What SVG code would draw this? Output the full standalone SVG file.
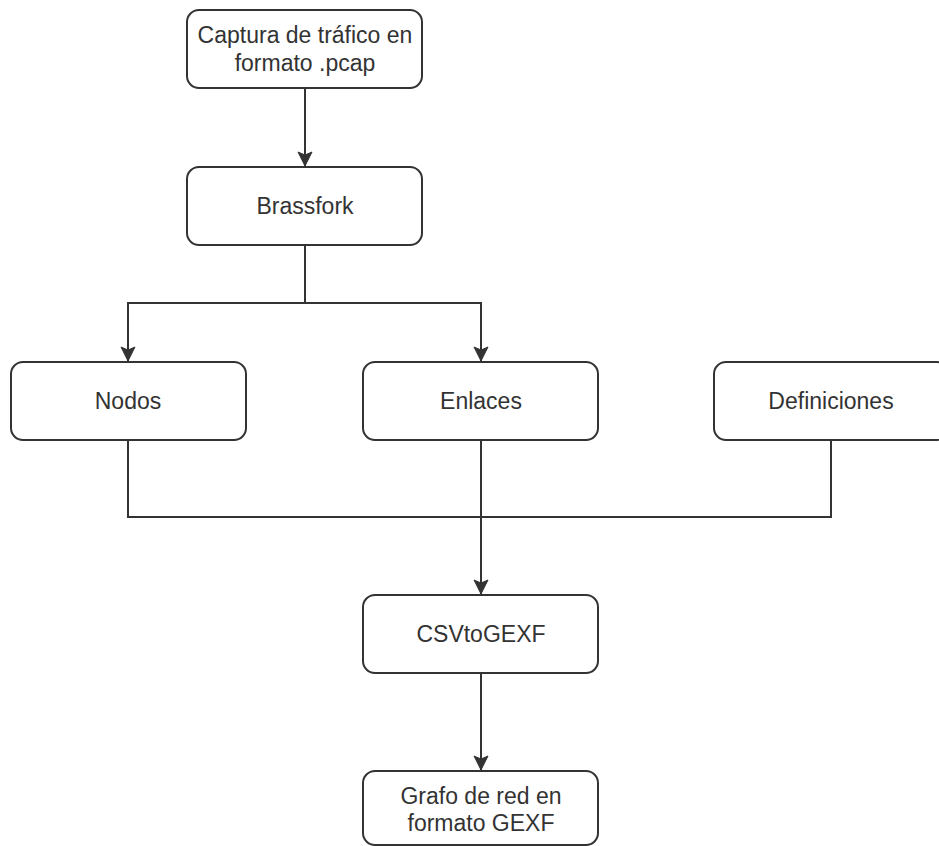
<svg xmlns="http://www.w3.org/2000/svg" width="939" height="846" viewBox="0 0 939 846">
  <style>
    .box { fill: #ffffff; stroke: #333333; stroke-width: 2; }
    .lbl { font-family: "Liberation Sans", Arial, sans-serif; font-size: 23px; fill: #333333; text-anchor: middle; }
    .wire { fill: none; stroke: #333333; stroke-width: 2; }
  </style>
  <defs>
    <marker id="arrow" markerUnits="userSpaceOnUse" markerWidth="16" markerHeight="16" viewBox="0 0 16 16" refX="15" refY="8" orient="auto">
      <path d="M1,1 L15,8 L1,15 L4,8 z" fill="#333333" stroke="#333333" stroke-width="1"/>
    </marker>
  </defs>
  <rect width="939" height="846" fill="#ffffff"/>

  <!-- connectors -->
  <g id="connectors">
    <line class="wire" x1="305" y1="88" x2="305" y2="166" marker-end="url(#arrow)"/>
    <polyline class="wire" points="305,245 305,303 128,303 128,361" marker-end="url(#arrow)"/>
    <polyline class="wire" points="305,303 481,303 481,361" marker-end="url(#arrow)"/>
    <line class="wire" x1="481" y1="440" x2="481" y2="594" marker-end="url(#arrow)"/>
    <polyline class="wire" points="128,440 128,517 831,517 831,440"/>
    <line class="wire" x1="481" y1="673" x2="481" y2="770" marker-end="url(#arrow)"/>
  </g>

  <g id="captura">
    <rect class="box" x="187" y="10" width="235" height="78" rx="12"/>
    <text class="lbl" x="305" y="43">Captura de tráfico en</text>
    <text class="lbl" x="305" y="71">formato .pcap</text>
  </g>

  <g id="brassfork">
    <rect class="box" x="187" y="167" width="235" height="78" rx="12"/>
    <text class="lbl" x="305" y="214">Brassfork</text>
  </g>

  <g id="nodos">
    <rect class="box" x="11" y="362" width="235" height="78" rx="12"/>
    <text class="lbl" x="128" y="409">Nodos</text>
  </g>

  <g id="enlaces">
    <rect class="box" x="363" y="362" width="235" height="78" rx="12"/>
    <text class="lbl" x="481" y="409">Enlaces</text>
  </g>

  <g id="definiciones">
    <rect class="box" x="714" y="362" width="235" height="78" rx="12"/>
    <text class="lbl" x="831" y="409">Definiciones</text>
  </g>

  <g id="csvtogexf">
    <rect class="box" x="363" y="595" width="235" height="78" rx="12"/>
    <text class="lbl" x="481" y="642">CSVtoGEXF</text>
  </g>

  <g id="grafo">
    <rect class="box" x="363" y="771" width="235" height="74" rx="12"/>
    <text class="lbl" x="481" y="804">Grafo de red en</text>
    <text class="lbl" x="481" y="831">formato GEXF</text>
  </g>
</svg>
